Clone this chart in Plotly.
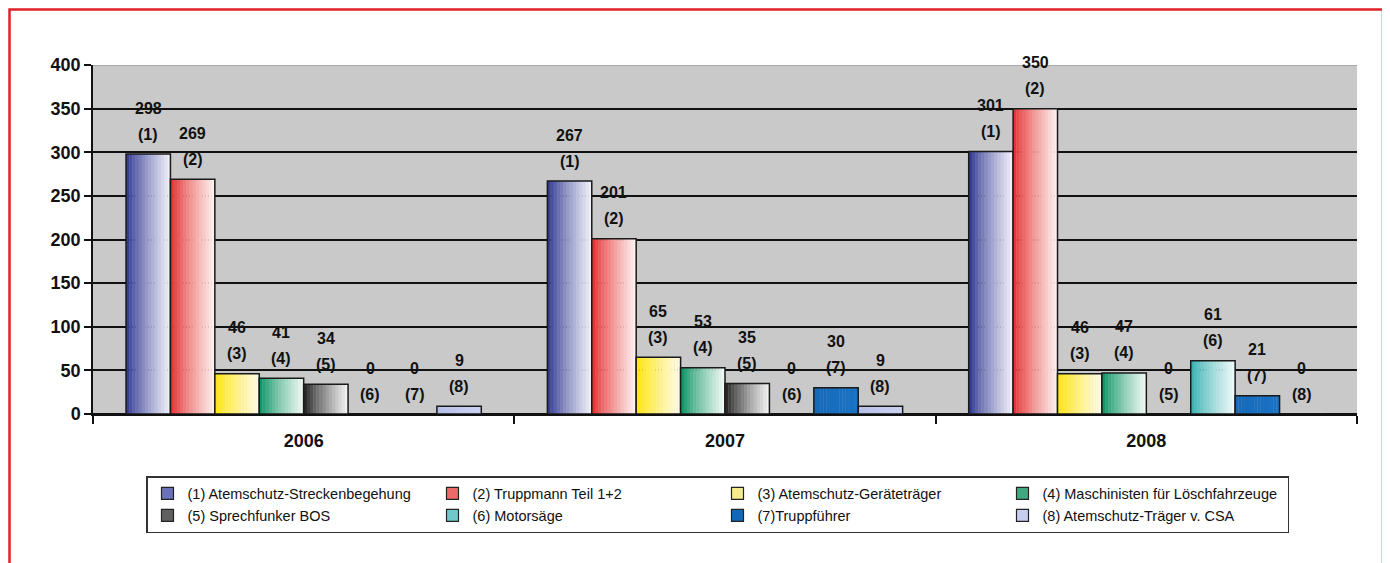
import plotly.graph_objects as go

years = ["2006", "2007", "2008"]
series_names = [
    "(1) Atemschutz-Streckenbegehung",
    "(2) Truppmann Teil 1+2",
    "(3) Atemschutz-Geräteträger",
    "(4) Maschinisten für Löschfahrzeuge",
    "(5) Sprechfunker BOS",
    "(6) Motorsäge",
    "(7)Truppführer",
    "(8) Atemschutz-Träger v. CSA",
]
s1 = [298, 267, 301]
s2 = [269, 201, 350]
s3 = [46, 65, 46]
s4 = [41, 53, 47]
s5 = [34, 35, 0]
s6 = [0, 0, 61]
s7 = [0, 30, 21]
s8 = [9, 9, 0]
series_values = [s1, s2, s3, s4, s5, s6, s7, s8]
y_ticks = [0, 50, 100, 150, 200, 250, 300, 350, 400]

# gradient start / end colours per series
dark = ["#262f8c", "#e42626", "#ffe400", "#008f5c", "#1a1a1a", "#2eaead", "#1468b8", "#b4bcea"]
light = ["#f4f4fc", "#fff4f4", "#fffbea", "#f4fbf7", "#f6f6f6", "#f2fbfb", "#1a72c4", "#ccd2f2"]
legend_col = ["#6a72b8", "#ec6a6a", "#f4ec90", "#40a880", "#606060", "#70c8c8", "#1468b8", "#c8cef0"]


def hex2rgb(h):
    h = h.lstrip("#")
    return tuple(int(h[i:i + 2], 16) for i in (0, 2, 4))


def mix(c1, c2, t):
    a, b = hex2rgb(c1), hex2rgb(c2)
    return "rgb(%d,%d,%d)" % tuple(round(a[i] + (b[i] - a[i]) * t) for i in range(3))


# page has an 8px body margin; compensate so the plot sits where the reference has it
PM = 8
W = 1390 - PM
H = 563 - PM
L, R, T, B = 93 - PM, 33, 65 - PM, 149
plot_w = W - L - R
plot_h = H - T - B


def py(y_px):  # window pixel y -> paper y
    return (414 - y_px) / plot_h


def px(x_px):  # window pixel x -> paper x
    return (x_px - 93) / plot_w


bold_font = "Liberation Sans, Arial, DejaVu Sans"
label_font = dict(family=bold_font, size=16, color="#111111")

bw = 0.1054
start = -0.4216
N = 14

fig = go.Figure()
annotations = []

for j, vals in enumerate(series_values):
    off0 = start + j * bw
    for k in range(N):
        t = (k + 0.5) / N
        t = t ** 0.8
        fig.add_trace(go.Bar(
            x=years, y=vals,
            offset=off0 + k * bw / N,
            width=bw / N * (1.08 if k < N - 1 else 1.0),
            marker=dict(color=mix(dark[j], light[j], t), line=dict(width=0)),
            showlegend=False, hoverinfo="skip",
        ))
    fig.add_trace(go.Bar(
        x=years, y=vals,
        offset=off0, width=bw,
        marker=dict(color="rgba(0,0,0,0)", line=dict(color="#1a1a1a", width=1.5)),
        showlegend=False, hoverinfo="skip",
    ))
    for i, v in enumerate(vals):
        xc = i + off0 + bw / 2
        annotations.append(dict(x=xc, y=v, xref="x", yref="y", text=f"<b>{v}</b>",
                                showarrow=False, yshift=46, yanchor="middle", font=label_font))
        annotations.append(dict(x=xc, y=v, xref="x", yref="y", text=f"<b>({j + 1})</b>",
                                showarrow=False, yshift=20, yanchor="middle", font=label_font))

for j, name in enumerate(series_names):
    fig.add_trace(go.Bar(
        x=years, y=[None, None, None],
        name=name,
        marker=dict(color=legend_col[j], line=dict(color="#222222", width=1.2)),
    ))

fig.update_layout(
    width=W, height=H,
    margin=dict(l=L, r=R, t=T, b=B, autoexpand=False),
    barmode="overlay",
    plot_bgcolor="#c9c9c9",
    paper_bgcolor="white",
    font=dict(family="Liberation Sans, Arial", color="#111111"),
    annotations=annotations,
    legend=dict(
        orientation="h",
        x=px(146), xanchor="left",
        y=py(476), yanchor="top",
        bgcolor="white",
        bordercolor="#333333", borderwidth=1.5,
        font=dict(family="Liberation Sans, Arial", size=14.5, color="#111111"),
        entrywidth=240, entrywidthmode="pixels",
        traceorder="normal",
        itemwidth=30,
    ),
    xaxis=dict(
        type="category",
        showline=True, linecolor="#111111", linewidth=1.5,
        ticks="outside", tickson="boundaries", ticklen=8, tickcolor="#111111", tickwidth=1.5,
        showgrid=False,
        tickfont=dict(family=bold_font, size=18, color="#111111"),
        ticktext=[f"<b>{y}</b>" for y in years], tickvals=years,
        ticklabelstandoff=10,
        range=[-0.5, 2.5],
    ),
    yaxis=dict(
        range=[0, 400],
        tickvals=y_ticks,
        ticktext=[f"<b>{v}</b>" for v in y_ticks],
        showline=True, linecolor="#111111", linewidth=1.5,
        ticks="outside", ticklen=7, tickcolor="#111111", tickwidth=1.5,
        showgrid=True, gridcolor="#111111", gridwidth=1.5,
        zeroline=True, zerolinecolor="#111111", zerolinewidth=1.5,
        tickfont=dict(family=bold_font, size=18, color="#111111"),
    ),
    shapes=[
        dict(type="line", xref="paper", yref="y", x0=0, x1=1, y0=400, y1=400,
             line=dict(color="#a9a9a9", width=2), layer="above"),
        dict(type="rect", xref="paper", yref="paper",
             x0=px(PM + 1.5), x1=px(1383),
             y0=py(620), y1=py(PM + 1.5),
             line=dict(color="#e0202a", width=2.5),
             fillcolor="rgba(0,0,0,0)", layer="above"),
    ],
)

fig.write_html("out.html")
